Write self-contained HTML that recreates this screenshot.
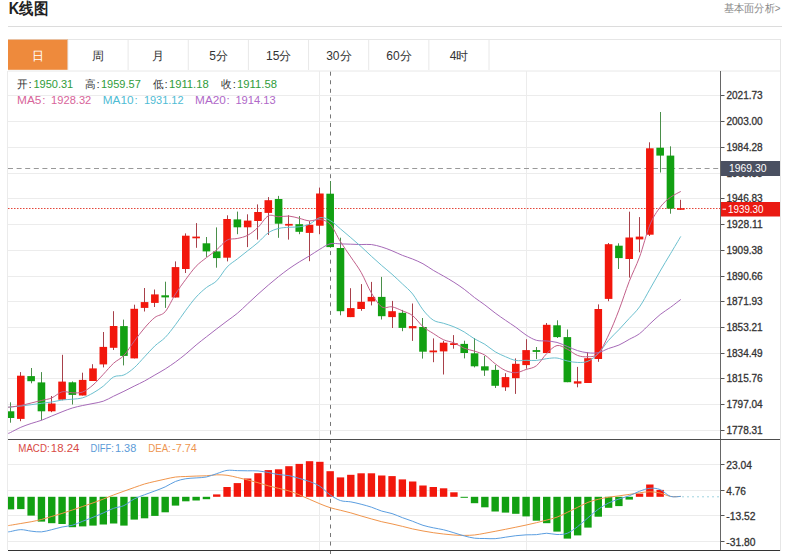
<!DOCTYPE html>
<html><head><meta charset="utf-8"><title>K线图</title>
<style>
html,body{margin:0;padding:0;background:#fff;width:800px;height:554px;overflow:hidden;font-family:"Liberation Sans",sans-serif;}
svg text{font-family:"Liberation Sans",sans-serif;}
</style></head><body>
<svg width="800" height="554" viewBox="0 0 800 554" style="position:absolute;left:0;top:0">
<defs><clipPath id="plot"><rect x="8" y="71" width="712" height="368"/></clipPath><clipPath id="mplot"><rect x="8" y="439" width="712" height="111"/></clipPath></defs>
<text x="8.7" y="13.6" font-size="16" font-weight="bold" fill="#222" textLength="39.3" lengthAdjust="spacingAndGlyphs">K线图</text>
<text x="723.9" y="11.8" font-size="10.6" fill="#8a8a8a" textLength="56.7" lengthAdjust="spacingAndGlyphs">基本面分析&gt;</text>
<line x1="8" y1="26.5" x2="782" y2="26.5" stroke="#dcdcdc"/>
<line x1="8" y1="39.5" x2="781" y2="39.5" stroke="#e6e6e6"/>
<line x1="8" y1="71" x2="781" y2="71" stroke="#e8e8e8"/>
<rect x="8" y="39.6" width="60" height="30.2" fill="#ee8a3c"/>
<line x1="67.95" y1="40" x2="67.95" y2="70" stroke="#e8e8e8"/>
<line x1="128.10000000000002" y1="40" x2="128.10000000000002" y2="70" stroke="#e8e8e8"/>
<line x1="188.25" y1="40" x2="188.25" y2="70" stroke="#e8e8e8"/>
<line x1="248.4" y1="40" x2="248.4" y2="70" stroke="#e8e8e8"/>
<line x1="308.55" y1="40" x2="308.55" y2="70" stroke="#e8e8e8"/>
<line x1="368.7" y1="40" x2="368.7" y2="70" stroke="#e8e8e8"/>
<line x1="428.85" y1="40" x2="428.85" y2="70" stroke="#e8e8e8"/>
<line x1="489.0" y1="40" x2="489.0" y2="70" stroke="#e8e8e8"/>
<text x="38.1" y="59.6" font-size="12" fill="#fff" text-anchor="middle">日</text>
<text x="98.25" y="59.6" font-size="12" fill="#333" text-anchor="middle">周</text>
<text x="158.4" y="59.6" font-size="12" fill="#333" text-anchor="middle">月</text>
<text x="218.54999999999998" y="59.6" font-size="12" fill="#333" text-anchor="middle">5分</text>
<text x="278.7" y="59.6" font-size="12" fill="#333" text-anchor="middle">15分</text>
<text x="338.85" y="59.6" font-size="12" fill="#333" text-anchor="middle">30分</text>
<text x="399.0" y="59.6" font-size="12" fill="#333" text-anchor="middle">60分</text>
<text x="459.15000000000003" y="59.6" font-size="12" fill="#333" text-anchor="middle">4时</text>
<line x1="8" y1="95.5" x2="720" y2="95.5" stroke="#ececec"/>
<line x1="8" y1="121.5" x2="720" y2="121.5" stroke="#ececec"/>
<line x1="8" y1="147.5" x2="720" y2="147.5" stroke="#ececec"/>
<line x1="8" y1="173.5" x2="720" y2="173.5" stroke="#ececec"/>
<line x1="8" y1="198.5" x2="720" y2="198.5" stroke="#ececec"/>
<line x1="8" y1="224.5" x2="720" y2="224.5" stroke="#ececec"/>
<line x1="8" y1="250.5" x2="720" y2="250.5" stroke="#ececec"/>
<line x1="8" y1="276.5" x2="720" y2="276.5" stroke="#ececec"/>
<line x1="8" y1="301.5" x2="720" y2="301.5" stroke="#ececec"/>
<line x1="8" y1="327.5" x2="720" y2="327.5" stroke="#ececec"/>
<line x1="8" y1="353.5" x2="720" y2="353.5" stroke="#ececec"/>
<line x1="8" y1="378.5" x2="720" y2="378.5" stroke="#ececec"/>
<line x1="8" y1="404.5" x2="720" y2="404.5" stroke="#ececec"/>
<line x1="8" y1="430.5" x2="720" y2="430.5" stroke="#ececec"/>
<line x1="8" y1="464.5" x2="720" y2="464.5" stroke="#ececec"/>
<line x1="8" y1="490.5" x2="720" y2="490.5" stroke="#ececec"/>
<line x1="8" y1="515.5" x2="720" y2="515.5" stroke="#ececec"/>
<line x1="8" y1="541.5" x2="720" y2="541.5" stroke="#ececec"/>
<line x1="319.5" y1="71" x2="319.5" y2="550" stroke="#ececec"/>
<line x1="526.5" y1="71" x2="526.5" y2="550" stroke="#ececec"/>
<line x1="7.5" y1="71" x2="7.5" y2="550" stroke="#ebebeb"/>
<line x1="780.5" y1="39.5" x2="780.5" y2="551" stroke="#e6e6e6"/>
<line x1="8" y1="168.5" x2="720" y2="168.5" stroke="#999" stroke-dasharray="5 3.6"/>
<line x1="8" y1="208.5" x2="720" y2="208.5" stroke="#e4463a" stroke-dasharray="1.5 1.5"/>
<line x1="330.5" y1="71.7" x2="330.5" y2="554" stroke="#767676" stroke-dasharray="4 4.543"/>
<g clip-path="url(#plot)">
<line x1="10.5" y1="402.3" x2="10.5" y2="422.7" stroke="#4a8f4a"/>
<rect x="6.7" y="411.3" width="7.6" height="6.7" fill="#12a012"/>
<line x1="20.5" y1="372.1" x2="20.5" y2="421.2" stroke="#a8404a"/>
<rect x="17.01" y="375.7" width="7.6" height="43.2" fill="#f2170c"/>
<line x1="31.5" y1="368" x2="31.5" y2="383.3" stroke="#4a8f4a"/>
<rect x="27.32" y="376.1" width="7.6" height="5.1" fill="#12a012"/>
<line x1="41.5" y1="372.1" x2="41.5" y2="420.3" stroke="#4a8f4a"/>
<rect x="37.64" y="382.4" width="7.6" height="28.9" fill="#12a012"/>
<line x1="51.5" y1="396" x2="51.5" y2="412.2" stroke="#a8404a"/>
<rect x="47.95" y="403.5" width="7.6" height="7.8" fill="#f2170c"/>
<line x1="62.5" y1="354.8" x2="62.5" y2="400.3" stroke="#a8404a"/>
<rect x="58.26" y="381.6" width="7.6" height="18.1" fill="#f2170c"/>
<line x1="72.5" y1="381.4" x2="72.5" y2="404.5" stroke="#4a8f4a"/>
<rect x="68.57" y="382.3" width="7.6" height="12.6" fill="#12a012"/>
<line x1="82.5" y1="372.7" x2="82.5" y2="395.5" stroke="#a8404a"/>
<rect x="78.88" y="379.9" width="7.6" height="15.6" fill="#f2170c"/>
<line x1="92.5" y1="364.2" x2="92.5" y2="381" stroke="#a8404a"/>
<rect x="89.2" y="368.4" width="7.6" height="12.6" fill="#f2170c"/>
<line x1="103.5" y1="332" x2="103.5" y2="367.4" stroke="#a8404a"/>
<rect x="99.51" y="346.9" width="7.6" height="17.5" fill="#f2170c"/>
<line x1="113.5" y1="311.2" x2="113.5" y2="350" stroke="#a8404a"/>
<rect x="109.82" y="326" width="7.6" height="21.8" fill="#f2170c"/>
<line x1="123.5" y1="319.6" x2="123.5" y2="365.4" stroke="#4a8f4a"/>
<rect x="120.13" y="326.1" width="7.6" height="29.8" fill="#12a012"/>
<line x1="134.5" y1="304.7" x2="134.5" y2="358.4" stroke="#a8404a"/>
<rect x="130.44" y="308.8" width="7.6" height="49.6" fill="#f2170c"/>
<line x1="144.5" y1="288" x2="144.5" y2="311.5" stroke="#a8404a"/>
<rect x="140.76" y="302.1" width="7.6" height="5.8" fill="#f2170c"/>
<line x1="154.5" y1="289.5" x2="154.5" y2="307" stroke="#a8404a"/>
<rect x="151.07" y="294.4" width="7.6" height="8.5" fill="#f2170c"/>
<line x1="165.5" y1="281.7" x2="165.5" y2="307.9" stroke="#4a8f4a"/>
<rect x="161.38" y="295.3" width="7.6" height="2.1" fill="#12a012"/>
<line x1="175.5" y1="261.4" x2="175.5" y2="297.5" stroke="#a8404a"/>
<rect x="171.69" y="267.1" width="7.6" height="30.4" fill="#f2170c"/>
<line x1="185.5" y1="233.4" x2="185.5" y2="273" stroke="#a8404a"/>
<rect x="182" y="235.7" width="7.6" height="33.3" fill="#f2170c"/>
<line x1="196.5" y1="223.1" x2="196.5" y2="247.8" stroke="#a8404a"/>
<rect x="192.32" y="236.6" width="7.6" height="1.7" fill="#f2170c"/>
<line x1="206.5" y1="237" x2="206.5" y2="256.9" stroke="#4a8f4a"/>
<rect x="202.63" y="243.3" width="7.6" height="8.1" fill="#12a012"/>
<line x1="216.5" y1="227.4" x2="216.5" y2="267.7" stroke="#4a8f4a"/>
<rect x="212.94" y="251.4" width="7.6" height="6.7" fill="#12a012"/>
<line x1="227.5" y1="215.3" x2="227.5" y2="261.4" stroke="#a8404a"/>
<rect x="223.25" y="219" width="7.6" height="38.7" fill="#f2170c"/>
<line x1="237.5" y1="211.6" x2="237.5" y2="234.2" stroke="#4a8f4a"/>
<rect x="233.56" y="219.4" width="7.6" height="7.9" fill="#12a012"/>
<line x1="247.5" y1="214.3" x2="247.5" y2="247.1" stroke="#a8404a"/>
<rect x="243.88" y="220.6" width="7.6" height="6.7" fill="#f2170c"/>
<line x1="257.5" y1="204.4" x2="257.5" y2="239.6" stroke="#a8404a"/>
<rect x="254.19" y="212" width="7.6" height="9" fill="#f2170c"/>
<line x1="268.5" y1="197.1" x2="268.5" y2="235" stroke="#a8404a"/>
<rect x="264.5" y="200.2" width="7.6" height="12.7" fill="#f2170c"/>
<line x1="278.5" y1="195.9" x2="278.5" y2="237.8" stroke="#4a8f4a"/>
<rect x="274.81" y="199" width="7.6" height="24.7" fill="#12a012"/>
<line x1="288.5" y1="215.2" x2="288.5" y2="239.6" stroke="#a8404a"/>
<rect x="285.12" y="223.9" width="7.6" height="1.7" fill="#f2170c"/>
<line x1="299.5" y1="216.1" x2="299.5" y2="234.2" stroke="#4a8f4a"/>
<rect x="295.44" y="224.2" width="7.6" height="7.6" fill="#12a012"/>
<line x1="309.5" y1="221.2" x2="309.5" y2="261.2" stroke="#a8404a"/>
<rect x="305.75" y="224.8" width="7.6" height="8.1" fill="#f2170c"/>
<line x1="319.5" y1="187.6" x2="319.5" y2="234.2" stroke="#a8404a"/>
<rect x="316.06" y="193.5" width="7.6" height="32.2" fill="#f2170c"/>
<line x1="330.5" y1="181" x2="330.5" y2="247.7" stroke="#4a8f4a"/>
<rect x="326.37" y="193.7" width="7.6" height="53.4" fill="#12a012"/>
<line x1="340.5" y1="237.7" x2="340.5" y2="315.3" stroke="#4a8f4a"/>
<rect x="336.68" y="248" width="7.6" height="63.2" fill="#12a012"/>
<line x1="350.5" y1="288.2" x2="350.5" y2="317.1" stroke="#a8404a"/>
<rect x="347" y="308.1" width="7.6" height="9" fill="#f2170c"/>
<line x1="361.5" y1="284.1" x2="361.5" y2="310.8" stroke="#a8404a"/>
<rect x="357.31" y="301.8" width="7.6" height="7.2" fill="#f2170c"/>
<line x1="371.5" y1="281.9" x2="371.5" y2="305.4" stroke="#a8404a"/>
<rect x="367.62" y="296.9" width="7.6" height="4.5" fill="#f2170c"/>
<line x1="381.5" y1="276.9" x2="381.5" y2="319.5" stroke="#4a8f4a"/>
<rect x="377.93" y="296.9" width="7.6" height="19.3" fill="#12a012"/>
<line x1="392.5" y1="300.9" x2="392.5" y2="328" stroke="#a8404a"/>
<rect x="388.24" y="311.2" width="7.6" height="5.9" fill="#f2170c"/>
<line x1="402.5" y1="309.9" x2="402.5" y2="331.2" stroke="#4a8f4a"/>
<rect x="398.56" y="312.8" width="7.6" height="15.1" fill="#12a012"/>
<line x1="412.5" y1="303.5" x2="412.5" y2="340.9" stroke="#a8404a"/>
<rect x="408.87" y="326.1" width="7.6" height="2.2" fill="#f2170c"/>
<line x1="422.5" y1="318" x2="422.5" y2="358.6" stroke="#4a8f4a"/>
<rect x="419.18" y="327" width="7.6" height="24.7" fill="#12a012"/>
<line x1="433.5" y1="338.4" x2="433.5" y2="362.2" stroke="#a8404a"/>
<rect x="429.49" y="350.5" width="7.6" height="1.8" fill="#f2170c"/>
<line x1="443.5" y1="340.9" x2="443.5" y2="374.5" stroke="#a8404a"/>
<rect x="439.8" y="342.7" width="7.6" height="8.7" fill="#f2170c"/>
<line x1="453.5" y1="335.1" x2="453.5" y2="348.7" stroke="#a8404a"/>
<rect x="450.12" y="343.2" width="7.6" height="1.8" fill="#f2170c"/>
<line x1="464.5" y1="340.7" x2="464.5" y2="358.4" stroke="#4a8f4a"/>
<rect x="460.43" y="343.9" width="7.6" height="9.1" fill="#12a012"/>
<line x1="474.5" y1="338" x2="474.5" y2="367.4" stroke="#4a8f4a"/>
<rect x="470.74" y="353.3" width="7.6" height="13" fill="#12a012"/>
<line x1="484.5" y1="356" x2="484.5" y2="375.9" stroke="#4a8f4a"/>
<rect x="481.05" y="366.3" width="7.6" height="4.2" fill="#12a012"/>
<line x1="495.5" y1="365" x2="495.5" y2="388" stroke="#4a8f4a"/>
<rect x="491.36" y="369.9" width="7.6" height="15.9" fill="#12a012"/>
<line x1="505.5" y1="373.2" x2="505.5" y2="390.9" stroke="#a8404a"/>
<rect x="501.68" y="377.1" width="7.6" height="10.2" fill="#f2170c"/>
<line x1="515.5" y1="358.4" x2="515.5" y2="393.9" stroke="#a8404a"/>
<rect x="511.99" y="363.8" width="7.6" height="14.4" fill="#f2170c"/>
<line x1="526.5" y1="339.2" x2="526.5" y2="368.7" stroke="#a8404a"/>
<rect x="522.3" y="350.1" width="7.6" height="15" fill="#f2170c"/>
<line x1="536.5" y1="347" x2="536.5" y2="359.1" stroke="#4a8f4a"/>
<rect x="532.61" y="350.1" width="7.6" height="1.8" fill="#12a012"/>
<line x1="546.5" y1="323" x2="546.5" y2="353" stroke="#a8404a"/>
<rect x="542.92" y="324.8" width="7.6" height="28.2" fill="#f2170c"/>
<line x1="557.5" y1="320.3" x2="557.5" y2="338" stroke="#4a8f4a"/>
<rect x="553.24" y="325.3" width="7.6" height="11.8" fill="#12a012"/>
<line x1="567.5" y1="329.5" x2="567.5" y2="382.2" stroke="#4a8f4a"/>
<rect x="563.55" y="337.1" width="7.6" height="45.1" fill="#12a012"/>
<line x1="577.5" y1="366.9" x2="577.5" y2="387.3" stroke="#a8404a"/>
<rect x="573.86" y="381.3" width="7.6" height="2.3" fill="#f2170c"/>
<line x1="587.5" y1="352.3" x2="587.5" y2="383" stroke="#a8404a"/>
<rect x="584.17" y="358.2" width="7.6" height="24.8" fill="#f2170c"/>
<line x1="598.5" y1="304.4" x2="598.5" y2="361.8" stroke="#a8404a"/>
<rect x="594.48" y="309" width="7.6" height="50" fill="#f2170c"/>
<line x1="608.5" y1="243" x2="608.5" y2="301.2" stroke="#a8404a"/>
<rect x="604.8" y="244.2" width="7.6" height="54.7" fill="#f2170c"/>
<line x1="618.5" y1="243.3" x2="618.5" y2="269" stroke="#4a8f4a"/>
<rect x="615.11" y="245.7" width="7.6" height="12.4" fill="#12a012"/>
<line x1="629.5" y1="211.7" x2="629.5" y2="277.6" stroke="#a8404a"/>
<rect x="625.42" y="237.5" width="7.6" height="21.5" fill="#f2170c"/>
<line x1="639.5" y1="217.1" x2="639.5" y2="252.3" stroke="#a8404a"/>
<rect x="635.73" y="236.6" width="7.6" height="2.8" fill="#f2170c"/>
<line x1="649.5" y1="142.3" x2="649.5" y2="236" stroke="#a8404a"/>
<rect x="646.04" y="148.3" width="7.6" height="86.4" fill="#f2170c"/>
<line x1="660.5" y1="112" x2="660.5" y2="172.5" stroke="#4a8f4a"/>
<rect x="656.36" y="147.7" width="7.6" height="7.9" fill="#12a012"/>
<line x1="670.5" y1="146.3" x2="670.5" y2="213.7" stroke="#4a8f4a"/>
<rect x="666.67" y="155.6" width="7.6" height="53" fill="#12a012"/>
<line x1="680.5" y1="199.8" x2="680.5" y2="209.8" stroke="#a8404a"/>
<rect x="676.98" y="208.2" width="7.6" height="1.6" fill="#f2170c"/>
</g>
<g clip-path="url(#plot)" fill="none" stroke-width="1" stroke-linejoin="round">
<path d="M8,433.5C8.42,433.33 8.36,433.53 10.5,432.5C12.64,431.47 17.37,428.8 20.81,427.3C24.25,425.8 27.69,424.67 31.12,423.5C34.56,422.33 38,421.55 41.44,420.3C44.87,419.05 48.31,417.42 51.75,416C55.19,414.58 58.62,413.13 62.06,411.8C65.5,410.47 68.93,409.05 72.37,408C75.81,406.95 79.25,406.25 82.68,405.5C86.12,404.75 89.56,404.22 93,403.5C96.43,402.78 99.87,402.42 103.31,401.2C106.75,399.98 110.18,397.85 113.62,396.2C117.06,394.55 120.49,392.98 123.93,391.3C127.37,389.62 130.81,387.82 134.24,386.1C137.68,384.38 141.12,382.85 144.56,381C147.99,379.15 151.43,377 154.87,375C158.31,373 161.74,371.17 165.18,369C168.62,366.83 172.05,364.5 175.49,362C178.93,359.5 182.37,356.83 185.8,354C189.24,351.17 192.68,347.86 196.12,345C199.55,342.14 202.99,339.53 206.43,336.84C209.87,334.15 213.3,331.48 216.74,328.84C220.18,326.21 223.61,323.6 227.05,321.01C230.49,318.42 233.93,316.19 237.36,313.31C240.8,310.44 244.24,306.97 247.68,303.78C251.11,300.6 254.55,297.31 257.99,294.21C261.43,291.1 264.86,288.07 268.3,285.13C271.74,282.2 275.17,279.3 278.61,276.57C282.05,273.85 285.49,271.21 288.92,268.77C292.36,266.34 295.8,264.1 299.24,261.94C302.67,259.79 306.11,257.96 309.55,255.84C312.99,253.72 316.42,251.23 319.86,249.22C323.3,247.2 326.73,244.66 330.17,243.78C333.61,242.89 337.05,243.82 340.48,243.89C343.92,243.96 347.36,244.08 350.8,244.19C354.23,244.31 357.67,244.51 361.11,244.56C364.55,244.62 367.98,244.14 371.42,244.54C374.86,244.95 378.29,245.96 381.73,246.99C385.17,248.03 388.61,249.38 392.04,250.77C395.48,252.16 398.92,253.95 402.36,255.33C405.79,256.72 409.23,257.67 412.67,259.07C416.11,260.47 419.54,261.87 422.98,263.75C426.42,265.63 429.85,268.27 433.29,270.32C436.73,272.38 440.17,274.11 443.6,276.09C447.04,278.08 450.48,280.03 453.92,282.23C457.35,284.42 460.79,286.72 464.23,289.27C467.67,291.83 471.1,294.97 474.54,297.58C477.98,300.19 481.41,302.35 484.85,304.92C488.29,307.49 491.73,310.45 495.16,313.01C498.6,315.57 502.04,317.91 505.48,320.28C508.91,322.65 512.35,324.77 515.79,327.23C519.23,329.69 522.66,332.88 526.1,335.06C529.54,337.24 532.97,339.31 536.41,340.3C539.85,341.29 543.29,340.62 546.72,340.98C550.16,341.34 553.6,341.52 557.04,342.43C560.47,343.34 563.91,345.08 567.35,346.45C570.79,347.82 574.22,349.62 577.66,350.67C581.1,351.72 584.53,352.44 587.97,352.77C591.41,353.1 594.85,353.38 598.28,352.66C601.72,351.94 605.16,349.74 608.6,348.48C612.03,347.21 615.47,346.59 618.91,345.07C622.35,343.56 625.78,341.27 629.22,339.37C632.66,337.46 636.09,336.24 639.53,333.67C642.97,331.1 646.41,327.13 649.84,323.95C653.28,320.77 656.72,317.34 660.16,314.57C663.59,311.8 667.03,309.87 670.47,307.35C673.91,304.83 679.06,300.76 680.78,299.44" stroke="#a66ab8"/>
<path d="M8,407.2C8.42,407.17 8.36,407.2 10.5,407C12.64,406.8 17.37,406.38 20.81,406C24.25,405.62 27.69,405.15 31.12,404.7C34.56,404.25 38,403.75 41.44,403.3C44.87,402.85 48.31,402.55 51.75,402C55.19,401.45 58.62,400.47 62.06,400C65.5,399.53 68.93,399.57 72.37,399.2C75.81,398.83 79.25,398.83 82.68,397.8C86.12,396.77 89.56,394.94 93,393C96.43,391.06 99.87,388.82 103.31,386.14C106.75,383.46 110.18,378.8 113.62,376.94C117.06,375.08 120.49,376.5 123.93,374.96C127.37,373.42 130.81,370.75 134.24,367.72C137.68,364.69 141.12,360.44 144.56,356.8C147.99,353.16 151.43,349.11 154.87,345.89C158.31,342.67 161.74,341 165.18,337.47C168.62,333.94 172.05,329.22 175.49,324.69C178.93,320.16 182.37,314.87 185.8,310.27C189.24,305.67 192.68,300.88 196.12,297.09C199.55,293.3 202.99,290.26 206.43,287.54C209.87,284.82 213.3,284.16 216.74,280.75C220.18,277.34 223.61,270.7 227.05,267.06C230.49,263.42 233.93,261.63 237.36,258.91C240.8,256.19 244.24,253.49 247.68,250.76C251.11,248.03 254.55,245.51 257.99,242.52C261.43,239.53 264.86,235.14 268.3,232.8C271.74,230.46 275.17,229.38 278.61,228.46C282.05,227.54 285.49,227.56 288.92,227.28C292.36,227 295.8,227.32 299.24,226.8C302.67,226.28 306.11,225.66 309.55,224.14C312.99,222.62 316.42,218.29 319.86,217.68C323.3,217.07 326.73,218.62 330.17,220.49C333.61,222.36 337.05,226.02 340.48,228.88C343.92,231.74 347.36,234.68 350.8,237.63C354.23,240.59 357.67,243.5 361.11,246.61C364.55,249.72 367.98,253.13 371.42,256.28C374.86,259.43 378.29,262.53 381.73,265.53C385.17,268.53 388.61,271.2 392.04,274.26C395.48,277.32 398.92,280.58 402.36,283.87C405.79,287.16 409.23,289.68 412.67,294C416.11,298.32 419.54,305.46 422.98,309.82C426.42,314.18 429.85,317.91 433.29,320.16C436.73,322.41 440.17,322.2 443.6,323.31C447.04,324.42 450.48,325.38 453.92,326.82C457.35,328.26 460.79,329.93 464.23,331.94C467.67,333.95 471.1,336.82 474.54,338.88C477.98,340.94 481.41,342.16 484.85,344.31C488.29,346.46 491.73,349.71 495.16,351.77C498.6,353.83 502.04,355.24 505.48,356.69C508.91,358.14 512.35,359.86 515.79,360.46C519.23,361.06 522.66,360.3 526.1,360.3C529.54,360.3 532.97,360.72 536.41,360.44C539.85,360.16 543.29,359.05 546.72,358.65C550.16,358.25 553.6,357.66 557.04,358.04C560.47,358.43 563.91,360.22 567.35,360.96C570.79,361.7 574.22,362.41 577.66,362.46C581.1,362.5 584.53,362.72 587.97,361.23C591.41,359.75 594.85,357.05 598.28,353.55C601.72,350.06 605.16,344.24 608.6,340.26C612.03,336.28 615.47,333.33 618.91,329.69C622.35,326.05 625.78,322.23 629.22,318.43C632.66,314.63 636.09,311.76 639.53,306.9C642.97,302.04 646.41,295.22 649.84,289.25C653.28,283.28 656.72,277.02 660.16,271.1C663.59,265.18 667.03,259.52 670.47,253.74C673.91,247.96 679.06,239.31 680.78,236.43" stroke="#6cc0cf"/>
<path d="M8,407.2C8.42,407.17 8.36,407.28 10.5,407C12.64,406.72 17.37,406.17 20.81,405.5C24.25,404.83 27.69,403.83 31.12,403C34.56,402.17 38,401.34 41.44,400.5C44.87,399.66 48.31,399.39 51.75,397.94C55.19,396.49 58.62,392.66 62.06,391.8C65.5,390.94 68.93,392.77 72.37,392.8C75.81,392.83 79.25,393.3 82.68,392C86.12,390.7 89.56,387.94 93,385C96.43,382.06 99.87,377.97 103.31,374.34C106.75,370.71 110.18,366.37 113.62,363.22C117.06,360.07 120.49,359.09 123.93,355.42C127.37,351.75 130.81,345.78 134.24,341.2C137.68,336.62 141.12,331.9 144.56,327.94C147.99,323.98 151.43,320.14 154.87,317.44C158.31,314.74 161.74,315.63 165.18,311.72C168.62,307.81 172.05,299.36 175.49,293.96C178.93,288.56 182.37,283.96 185.8,279.34C189.24,274.72 192.68,269.86 196.12,266.24C199.55,262.62 202.99,260.38 206.43,257.64C209.87,254.9 213.3,252.69 216.74,249.78C220.18,246.87 223.61,242.04 227.05,240.16C230.49,238.28 233.93,239.29 237.36,238.48C240.8,237.67 244.24,237.13 247.68,235.28C251.11,233.43 254.55,230.64 257.99,227.4C261.43,224.16 264.86,217.59 268.3,215.82C271.74,214.05 275.17,216.72 278.61,216.76C282.05,216.8 285.49,215.82 288.92,216.08C292.36,216.34 295.8,217.52 299.24,218.32C302.67,219.12 306.11,220.68 309.55,220.88C312.99,221.08 316.42,218.98 319.86,219.54C323.3,220.1 326.73,220.53 330.17,224.22C333.61,227.91 337.05,236.23 340.48,241.68C343.92,247.13 347.36,251.83 350.8,256.94C354.23,262.05 357.67,266.33 361.11,272.34C364.55,278.35 367.98,287.27 371.42,293.02C374.86,298.77 378.29,304.54 381.73,306.84C385.17,309.14 388.61,306.18 392.04,306.84C395.48,307.5 398.92,309.33 402.36,310.8C405.79,312.27 409.23,313.02 412.67,315.66C416.11,318.3 419.54,323.65 422.98,326.62C426.42,329.59 429.85,331.29 433.29,333.48C436.73,335.67 440.17,338.22 443.6,339.78C447.04,341.34 450.48,341.43 453.92,342.84C457.35,344.25 460.79,346.84 464.23,348.22C467.67,349.6 471.1,349.99 474.54,351.14C477.98,352.29 481.41,353.04 484.85,355.14C488.29,357.24 491.73,361.19 495.16,363.76C498.6,366.33 502.04,369.05 505.48,370.54C508.91,372.03 512.35,372.88 515.79,372.7C519.23,372.52 522.66,370.62 526.1,369.46C529.54,368.3 532.97,368.39 536.41,365.74C539.85,363.09 543.29,356.91 546.72,353.54C550.16,350.17 553.6,346.26 557.04,345.54C560.47,344.82 563.91,347.57 567.35,349.22C570.79,350.87 574.22,354.21 577.66,355.46C581.1,356.71 584.53,357.04 587.97,356.72C591.41,356.4 594.85,357.18 598.28,353.56C601.72,349.94 605.16,342.21 608.6,334.98C612.03,327.75 615.47,319.09 618.91,310.16C622.35,301.23 625.78,290.25 629.22,281.4C632.66,272.55 636.09,266.49 639.53,257.08C642.97,247.67 646.41,233.25 649.84,224.94C653.28,216.63 656.72,211.82 660.16,207.22C663.59,202.62 667.03,199.95 670.47,197.32C673.91,194.69 679.06,192.44 680.78,191.46" stroke="#c2608a"/>
</g>
<g clip-path="url(#mplot)">
<rect x="6.8" y="496.8" width="7.4" height="12.6" fill="#12a012"/>
<rect x="17.11" y="496.8" width="7.4" height="12.3" fill="#12a012"/>
<rect x="27.42" y="496.8" width="7.4" height="18.8" fill="#12a012"/>
<rect x="37.74" y="496.8" width="7.4" height="24.8" fill="#12a012"/>
<rect x="48.05" y="496.8" width="7.4" height="26.4" fill="#12a012"/>
<rect x="58.36" y="496.8" width="7.4" height="27.2" fill="#12a012"/>
<rect x="68.67" y="496.8" width="7.4" height="30.4" fill="#12a012"/>
<rect x="78.98" y="496.8" width="7.4" height="29.6" fill="#12a012"/>
<rect x="89.3" y="496.8" width="7.4" height="28.8" fill="#12a012"/>
<rect x="99.61" y="496.8" width="7.4" height="27.7" fill="#12a012"/>
<rect x="109.92" y="496.8" width="7.4" height="26.7" fill="#12a012"/>
<rect x="120.23" y="496.8" width="7.4" height="28.8" fill="#12a012"/>
<rect x="130.54" y="496.8" width="7.4" height="22.8" fill="#12a012"/>
<rect x="140.86" y="496.8" width="7.4" height="21.5" fill="#12a012"/>
<rect x="151.17" y="496.8" width="7.4" height="19.1" fill="#12a012"/>
<rect x="161.48" y="496.8" width="7.4" height="15.5" fill="#12a012"/>
<rect x="171.79" y="496.8" width="7.4" height="8.8" fill="#12a012"/>
<rect x="182.1" y="496.8" width="7.4" height="4.5" fill="#12a012"/>
<rect x="192.42" y="496.8" width="7.4" height="3.7" fill="#12a012"/>
<rect x="202.73" y="496.8" width="7.4" height="2.4" fill="#12a012"/>
<rect x="213.04" y="494.4" width="7.4" height="2.4" fill="#f2170c"/>
<rect x="223.35" y="487" width="7.4" height="9.8" fill="#f2170c"/>
<rect x="233.66" y="483.1" width="7.4" height="13.7" fill="#f2170c"/>
<rect x="243.98" y="478.5" width="7.4" height="18.3" fill="#f2170c"/>
<rect x="254.29" y="473.2" width="7.4" height="23.6" fill="#f2170c"/>
<rect x="264.6" y="470.1" width="7.4" height="26.7" fill="#f2170c"/>
<rect x="274.91" y="469.3" width="7.4" height="27.5" fill="#f2170c"/>
<rect x="285.22" y="466.2" width="7.4" height="30.6" fill="#f2170c"/>
<rect x="295.54" y="463.9" width="7.4" height="32.9" fill="#f2170c"/>
<rect x="305.85" y="461.2" width="7.4" height="35.6" fill="#f2170c"/>
<rect x="316.16" y="461.8" width="7.4" height="35" fill="#f2170c"/>
<rect x="326.47" y="471.2" width="7.4" height="25.6" fill="#f2170c"/>
<rect x="336.78" y="477.4" width="7.4" height="19.4" fill="#f2170c"/>
<rect x="347.1" y="474.8" width="7.4" height="22" fill="#f2170c"/>
<rect x="357.41" y="473.3" width="7.4" height="23.5" fill="#f2170c"/>
<rect x="367.72" y="473.3" width="7.4" height="23.5" fill="#f2170c"/>
<rect x="378.03" y="475.5" width="7.4" height="21.3" fill="#f2170c"/>
<rect x="388.34" y="476.1" width="7.4" height="20.7" fill="#f2170c"/>
<rect x="398.66" y="479.4" width="7.4" height="17.4" fill="#f2170c"/>
<rect x="408.97" y="481.5" width="7.4" height="15.3" fill="#f2170c"/>
<rect x="419.28" y="485.5" width="7.4" height="11.3" fill="#f2170c"/>
<rect x="429.59" y="487" width="7.4" height="9.8" fill="#f2170c"/>
<rect x="439.9" y="488.3" width="7.4" height="8.5" fill="#f2170c"/>
<rect x="450.22" y="492.3" width="7.4" height="4.5" fill="#f2170c"/>
<rect x="460.53" y="496.8" width="7.4" height="1" fill="#12a012"/>
<rect x="470.84" y="496.8" width="7.4" height="6.4" fill="#12a012"/>
<rect x="481.15" y="496.8" width="7.4" height="10.5" fill="#12a012"/>
<rect x="491.46" y="496.8" width="7.4" height="14.7" fill="#12a012"/>
<rect x="501.78" y="496.8" width="7.4" height="15.8" fill="#12a012"/>
<rect x="512.09" y="496.8" width="7.4" height="17" fill="#12a012"/>
<rect x="522.4" y="496.8" width="7.4" height="19.6" fill="#12a012"/>
<rect x="532.71" y="496.8" width="7.4" height="23.9" fill="#12a012"/>
<rect x="543.02" y="496.8" width="7.4" height="26.4" fill="#12a012"/>
<rect x="553.34" y="496.8" width="7.4" height="34.8" fill="#12a012"/>
<rect x="563.65" y="496.8" width="7.4" height="41.8" fill="#12a012"/>
<rect x="573.96" y="496.8" width="7.4" height="38.6" fill="#12a012"/>
<rect x="584.27" y="496.8" width="7.4" height="30.8" fill="#12a012"/>
<rect x="594.58" y="496.8" width="7.4" height="19.9" fill="#12a012"/>
<rect x="604.9" y="496.8" width="7.4" height="11" fill="#12a012"/>
<rect x="615.21" y="496.8" width="7.4" height="9.3" fill="#12a012"/>
<rect x="625.52" y="496.8" width="7.4" height="2.8" fill="#12a012"/>
<rect x="635.83" y="493.6" width="7.4" height="3.2" fill="#f2170c"/>
<rect x="646.14" y="484.5" width="7.4" height="12.3" fill="#f2170c"/>
<rect x="656.46" y="489.9" width="7.4" height="6.9" fill="#f2170c"/>
</g>
<g clip-path="url(#mplot)" fill="none" stroke-width="1" stroke-linejoin="round">
<path d="M8,525.64C8.42,525.58 8.36,525.6 10.5,525.24C12.64,524.89 17.37,524.08 20.81,523.5C24.25,522.91 27.69,522.42 31.12,521.75C34.56,521.08 38,520.37 41.44,519.49C44.87,518.6 48.31,517.47 51.75,516.46C55.19,515.45 58.62,514.51 62.06,513.43C65.5,512.36 68.93,511.18 72.37,510.02C75.81,508.86 79.25,507.65 82.68,506.47C86.12,505.28 89.56,504.14 93,502.91C96.43,501.68 99.87,500.42 103.31,499.09C106.75,497.76 110.18,496.26 113.62,494.94C117.06,493.62 120.49,492.43 123.93,491.2C127.37,489.96 130.81,488.73 134.24,487.53C137.68,486.33 141.12,485 144.56,483.99C147.99,482.97 151.43,482.25 154.87,481.44C158.31,480.63 161.74,479.86 165.18,479.13C168.62,478.4 172.05,477.48 175.49,477.04C178.93,476.6 182.37,476.65 185.8,476.49C189.24,476.33 192.68,476.19 196.12,476.07C199.55,475.95 202.99,475.98 206.43,475.78C209.87,475.57 213.3,474.91 216.74,474.83C220.18,474.75 223.61,474.85 227.05,475.29C230.49,475.73 233.93,476.71 237.36,477.49C240.8,478.27 244.24,479.08 247.68,479.95C251.11,480.82 254.55,481.75 257.99,482.73C261.43,483.71 264.86,484.89 268.3,485.83C271.74,486.76 275.17,487.49 278.61,488.34C282.05,489.19 285.49,489.85 288.92,490.93C292.36,492.02 295.8,493.45 299.24,494.85C302.67,496.25 306.11,497.85 309.55,499.34C312.99,500.83 316.42,502.4 319.86,503.79C323.3,505.18 326.73,506.6 330.17,507.68C333.61,508.76 337.05,509.4 340.48,510.27C343.92,511.14 347.36,511.92 350.8,512.87C354.23,513.82 357.67,514.96 361.11,515.97C364.55,516.98 367.98,517.96 371.42,518.92C374.86,519.88 378.29,520.89 381.73,521.73C385.17,522.56 388.61,523.15 392.04,523.92C395.48,524.69 398.92,525.51 402.36,526.35C405.79,527.18 409.23,528.16 412.67,528.93C416.11,529.7 419.54,530.34 422.98,530.97C426.42,531.6 429.85,532.18 433.29,532.7C436.73,533.21 440.17,533.64 443.6,534.03C447.04,534.42 450.48,534.8 453.92,535.03C457.35,535.26 460.79,535.41 464.23,535.4C467.67,535.39 471.1,535.34 474.54,534.98C477.98,534.63 481.41,533.87 484.85,533.26C488.29,532.65 491.73,531.98 495.16,531.32C498.6,530.66 502.04,529.98 505.48,529.3C508.91,528.61 512.35,527.92 515.79,527.21C519.23,526.5 522.66,525.8 526.1,525.05C529.54,524.3 532.97,523.53 536.41,522.7C539.85,521.86 543.29,520.99 546.72,520.06C550.16,519.13 553.6,518.4 557.04,517.11C560.47,515.83 563.91,513.99 567.35,512.35C570.79,510.71 574.22,508.95 577.66,507.29C581.1,505.63 584.53,503.7 587.97,502.37C591.41,501.03 594.85,500.13 598.28,499.27C601.72,498.41 605.16,497.78 608.6,497.21C612.03,496.64 615.47,496.34 618.91,495.87C622.35,495.4 625.78,494.91 629.22,494.41C632.66,493.9 636.09,493.3 639.53,492.85C642.97,492.41 646.41,491.71 649.84,491.74C653.28,491.77 656.72,492.23 660.16,493.01C663.59,493.79 667.03,495.83 670.47,496.4C673.91,496.97 679.06,496.4 680.78,496.4" stroke="#f0954c"/>
<path d="M8,531.84C8.42,531.79 8.36,531.91 10.5,531.54C12.64,531.18 17.37,529.71 20.81,529.65C24.25,529.58 27.69,530.77 31.12,531.15C34.56,531.52 38,532.13 41.44,531.89C44.87,531.64 48.31,530.47 51.75,529.66C55.19,528.85 58.62,527.77 62.06,527.03C65.5,526.29 68.93,526.18 72.37,525.22C75.81,524.26 79.25,522.59 82.68,521.27C86.12,519.95 89.56,518.7 93,517.31C96.43,515.93 99.87,514.44 103.31,512.94C106.75,511.43 110.18,509.51 113.62,508.29C117.06,507.07 120.49,507.16 123.93,505.6C127.37,504.04 130.81,500.74 134.24,498.93C137.68,497.12 141.12,496.06 144.56,494.74C147.99,493.42 151.43,492.3 154.87,490.99C158.31,489.68 161.74,488.47 165.18,486.88C168.62,485.29 172.05,482.8 175.49,481.44C178.93,480.09 182.37,479.33 185.8,478.74C189.24,478.15 192.68,478.21 196.12,477.92C199.55,477.63 202.99,477.69 206.43,476.98C209.87,476.26 213.3,474.73 216.74,473.63C220.18,472.53 223.61,470.89 227.05,470.39C230.49,469.89 233.93,470.57 237.36,470.64C240.8,470.71 244.24,470.75 247.68,470.8C251.11,470.85 254.55,470.65 257.99,470.93C261.43,471.21 264.86,471.87 268.3,472.48C271.74,473.09 275.17,474.07 278.61,474.59C282.05,475.12 285.49,475 288.92,475.63C292.36,476.27 295.8,477.42 299.24,478.4C302.67,479.39 306.11,480.22 309.55,481.54C312.99,482.85 316.42,484.07 319.86,486.29C323.3,488.51 326.73,492.5 330.17,494.88C333.61,497.26 337.05,499.4 340.48,500.57C343.92,501.74 347.36,501.26 350.8,501.87C354.23,502.48 357.67,503.34 361.11,504.22C364.55,505.1 367.98,506.03 371.42,507.17C374.86,508.31 378.29,510.01 381.73,511.08C385.17,512.14 388.61,512.48 392.04,513.57C395.48,514.67 398.92,516.36 402.36,517.65C405.79,518.93 409.23,520 412.67,521.28C416.11,522.56 419.54,524.23 422.98,525.32C426.42,526.41 429.85,527.05 433.29,527.8C436.73,528.54 440.17,528.95 443.6,529.78C447.04,530.61 450.48,531.76 453.92,532.78C457.35,533.8 460.79,535 464.23,535.9C467.67,536.8 471.1,537.75 474.54,538.18C477.98,538.62 481.41,538.43 484.85,538.51C488.29,538.59 491.73,538.89 495.16,538.67C498.6,538.45 502.04,537.69 505.48,537.2C508.91,536.7 512.35,536.1 515.79,535.71C519.23,535.32 522.66,535.03 526.1,534.85C529.54,534.67 532.97,534.91 536.41,534.65C539.85,534.38 543.29,533.28 546.72,533.26C550.16,533.24 553.6,534.52 557.04,534.51C560.47,534.51 563.91,534.57 567.35,533.25C570.79,531.93 574.22,529.17 577.66,526.59C581.1,524.01 584.53,520.66 587.97,517.77C591.41,514.87 594.85,511.68 598.28,509.22C601.72,506.76 605.16,504.7 608.6,503C612.03,501.3 615.47,500.2 618.91,499C622.35,497.8 625.78,497.1 629.22,495.81C632.66,494.52 636.09,492.5 639.53,491.25C642.97,490 646.41,488.58 649.84,488.3C653.28,488.02 656.72,488.21 660.16,489.56C663.59,490.91 667.03,495.26 670.47,496.4C673.91,497.54 679.06,496.4 680.78,496.4" stroke="#5b9ee0"/>
</g>
<line x1="682" y1="496.8" x2="719" y2="496.8" stroke="#9fd3e0" stroke-dasharray="2 3"/>
<line x1="720.5" y1="71" x2="720.5" y2="550" stroke="#666"/>
<line x1="8" y1="439.5" x2="780" y2="439.5" stroke="#4d4d4d"/>
<line x1="8" y1="550.5" x2="780" y2="550.5" stroke="#333" stroke-width="1.2"/>
<line x1="721" y1="95.5" x2="724.5" y2="95.5" stroke="#555"/>
<text x="726.4" y="99.3" font-size="10.8" fill="#333" stroke="#333" stroke-width="0.3" textLength="36.3" lengthAdjust="spacingAndGlyphs">2021.73</text>
<line x1="721" y1="121.5" x2="724.5" y2="121.5" stroke="#555"/>
<text x="726.4" y="125.3" font-size="10.8" fill="#333" stroke="#333" stroke-width="0.3" textLength="36.3" lengthAdjust="spacingAndGlyphs">2003.00</text>
<line x1="721" y1="147.5" x2="724.5" y2="147.5" stroke="#555"/>
<text x="726.4" y="151.3" font-size="10.8" fill="#333" stroke="#333" stroke-width="0.3" textLength="36.3" lengthAdjust="spacingAndGlyphs">1984.28</text>
<line x1="721" y1="173.5" x2="724.5" y2="173.5" stroke="#555"/>
<text x="726.4" y="177.3" font-size="10.8" fill="#333" stroke="#333" stroke-width="0.3" textLength="36.3" lengthAdjust="spacingAndGlyphs">1965.55</text>
<line x1="721" y1="198.5" x2="724.5" y2="198.5" stroke="#555"/>
<text x="726.4" y="202.3" font-size="10.8" fill="#333" stroke="#333" stroke-width="0.3" textLength="36.3" lengthAdjust="spacingAndGlyphs">1946.83</text>
<line x1="721" y1="224.5" x2="724.5" y2="224.5" stroke="#555"/>
<text x="726.4" y="228.3" font-size="10.8" fill="#333" stroke="#333" stroke-width="0.3" textLength="36.3" lengthAdjust="spacingAndGlyphs">1928.11</text>
<line x1="721" y1="250.5" x2="724.5" y2="250.5" stroke="#555"/>
<text x="726.4" y="254.3" font-size="10.8" fill="#333" stroke="#333" stroke-width="0.3" textLength="36.3" lengthAdjust="spacingAndGlyphs">1909.38</text>
<line x1="721" y1="276.5" x2="724.5" y2="276.5" stroke="#555"/>
<text x="726.4" y="280.3" font-size="10.8" fill="#333" stroke="#333" stroke-width="0.3" textLength="36.3" lengthAdjust="spacingAndGlyphs">1890.66</text>
<line x1="721" y1="301.5" x2="724.5" y2="301.5" stroke="#555"/>
<text x="726.4" y="305.3" font-size="10.8" fill="#333" stroke="#333" stroke-width="0.3" textLength="36.3" lengthAdjust="spacingAndGlyphs">1871.93</text>
<line x1="721" y1="327.5" x2="724.5" y2="327.5" stroke="#555"/>
<text x="726.4" y="331.3" font-size="10.8" fill="#333" stroke="#333" stroke-width="0.3" textLength="36.3" lengthAdjust="spacingAndGlyphs">1853.21</text>
<line x1="721" y1="353.5" x2="724.5" y2="353.5" stroke="#555"/>
<text x="726.4" y="357.3" font-size="10.8" fill="#333" stroke="#333" stroke-width="0.3" textLength="36.3" lengthAdjust="spacingAndGlyphs">1834.49</text>
<line x1="721" y1="378.5" x2="724.5" y2="378.5" stroke="#555"/>
<text x="726.4" y="382.3" font-size="10.8" fill="#333" stroke="#333" stroke-width="0.3" textLength="36.3" lengthAdjust="spacingAndGlyphs">1815.76</text>
<line x1="721" y1="404.5" x2="724.5" y2="404.5" stroke="#555"/>
<text x="726.4" y="408.3" font-size="10.8" fill="#333" stroke="#333" stroke-width="0.3" textLength="36.3" lengthAdjust="spacingAndGlyphs">1797.04</text>
<line x1="721" y1="430.5" x2="724.5" y2="430.5" stroke="#555"/>
<text x="726.4" y="434.3" font-size="10.8" fill="#333" stroke="#333" stroke-width="0.3" textLength="36.3" lengthAdjust="spacingAndGlyphs">1778.31</text>
<line x1="721" y1="464.5" x2="724.5" y2="464.5" stroke="#555"/>
<text x="726.3" y="468.6" font-size="10.8" fill="#333" stroke="#333" stroke-width="0.3" textLength="25.7" lengthAdjust="spacingAndGlyphs">23.04</text>
<line x1="721" y1="490.5" x2="724.5" y2="490.5" stroke="#555"/>
<text x="726.3" y="494.6" font-size="10.8" fill="#333" stroke="#333" stroke-width="0.3" textLength="19.7" lengthAdjust="spacingAndGlyphs">4.76</text>
<line x1="721" y1="515.5" x2="724.5" y2="515.5" stroke="#555"/>
<text x="726.3" y="519.6" font-size="10.8" fill="#333" stroke="#333" stroke-width="0.3" textLength="29.2" lengthAdjust="spacingAndGlyphs">-13.52</text>
<line x1="721" y1="541.5" x2="724.5" y2="541.5" stroke="#555"/>
<text x="726.3" y="545.6" font-size="10.8" fill="#333" stroke="#333" stroke-width="0.3" textLength="29.2" lengthAdjust="spacingAndGlyphs">-31.80</text>
<rect x="721" y="161" width="59" height="15" fill="#4a5061"/>
<text x="729" y="171.9" font-size="11.6" fill="#fff" textLength="37.5" lengthAdjust="spacingAndGlyphs">1969.30</text>
<rect x="721" y="202" width="59" height="14.5" fill="#ea1a12"/>
<line x1="722.5" y1="209.2" x2="726" y2="209.2" stroke="#fff"/>
<text x="728" y="213.4" font-size="11.6" fill="#fff" textLength="35.5" lengthAdjust="spacingAndGlyphs">1939.30</text>
<text x="17" y="88.1" font-size="10.8" fill="#333" textLength="10.6" lengthAdjust="spacingAndGlyphs">开</text>
<text x="28.4" y="88.1" font-size="11.4" fill="#333">:</text>
<text x="33.4" y="88.1" font-size="11.4" fill="#2f9c3a" textLength="39.8" lengthAdjust="spacingAndGlyphs">1950.31</text>
<text x="85" y="88.1" font-size="10.8" fill="#333" textLength="10.6" lengthAdjust="spacingAndGlyphs">高</text>
<text x="96.4" y="88.1" font-size="11.4" fill="#333">:</text>
<text x="101" y="88.1" font-size="11.4" fill="#2f9c3a" textLength="39.8" lengthAdjust="spacingAndGlyphs">1959.57</text>
<text x="153.1" y="88.1" font-size="10.8" fill="#333" textLength="10.6" lengthAdjust="spacingAndGlyphs">低</text>
<text x="164.5" y="88.1" font-size="11.4" fill="#333">:</text>
<text x="168.9" y="88.1" font-size="11.4" fill="#2f9c3a" textLength="39.8" lengthAdjust="spacingAndGlyphs">1911.18</text>
<text x="221.4" y="88.1" font-size="10.8" fill="#333" textLength="10.6" lengthAdjust="spacingAndGlyphs">收</text>
<text x="232.8" y="88.1" font-size="11.4" fill="#333">:</text>
<text x="237.1" y="88.1" font-size="11.4" fill="#2f9c3a" textLength="39.8" lengthAdjust="spacingAndGlyphs">1911.58</text>
<text x="17" y="104.1" font-size="11.4" fill="#d8659a" textLength="24.4" lengthAdjust="spacingAndGlyphs">MA5</text>
<text x="42.2" y="104.1" font-size="11.4" fill="#d8659a">:</text>
<text x="51.1" y="104.1" font-size="11.4" fill="#d8659a" textLength="40.2" lengthAdjust="spacingAndGlyphs">1928.32</text>
<text x="102.8" y="104.1" font-size="11.4" fill="#4fbcd4" textLength="30.8" lengthAdjust="spacingAndGlyphs">MA10</text>
<text x="134.4" y="104.1" font-size="11.4" fill="#4fbcd4">:</text>
<text x="143.9" y="104.1" font-size="11.4" fill="#4fbcd4" textLength="39.6" lengthAdjust="spacingAndGlyphs">1931.12</text>
<text x="195.1" y="104.1" font-size="11.4" fill="#b068c8" textLength="30.8" lengthAdjust="spacingAndGlyphs">MA20</text>
<text x="226.6" y="104.1" font-size="11.4" fill="#b068c8">:</text>
<text x="235.4" y="104.1" font-size="11.4" fill="#b068c8" textLength="40.2" lengthAdjust="spacingAndGlyphs">1914.13</text>
<text x="18.3" y="451.9" font-size="11" fill="#d84a45" textLength="31.3" lengthAdjust="spacingAndGlyphs">MACD:</text>
<text x="50.8" y="451.9" font-size="11" fill="#d84a45" textLength="28.5" lengthAdjust="spacingAndGlyphs">18.24</text>
<text x="90.5" y="451.9" font-size="11" fill="#5b9bd8" textLength="23.3" lengthAdjust="spacingAndGlyphs">DIFF:</text>
<text x="115" y="451.9" font-size="11" fill="#5b9bd8" textLength="21.3" lengthAdjust="spacingAndGlyphs">1.38</text>
<text x="148.2" y="451.9" font-size="11" fill="#ee9550" textLength="22.6" lengthAdjust="spacingAndGlyphs">DEA:</text>
<text x="172" y="451.9" font-size="11" fill="#ee9550" textLength="24.9" lengthAdjust="spacingAndGlyphs">-7.74</text>
</svg>
</body></html>
